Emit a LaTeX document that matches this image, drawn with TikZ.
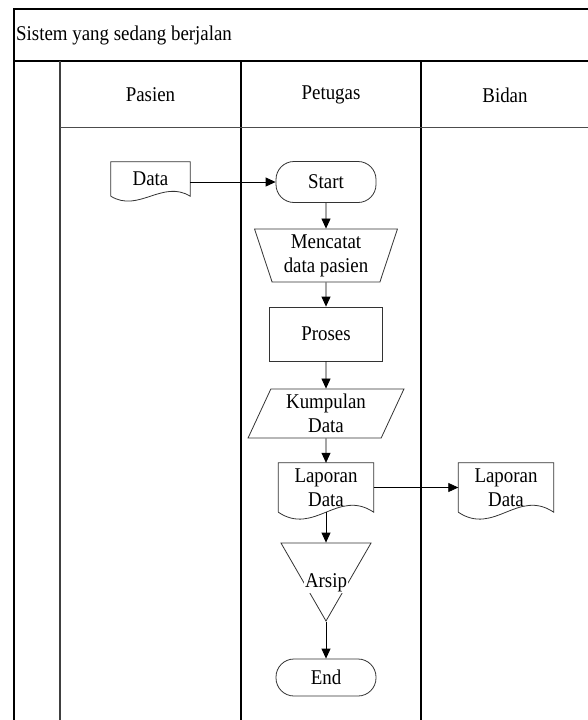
\documentclass[tikz,border=0pt]{standalone}
\usepackage{fontspec}
\setmainfont{Liberation Serif}[FakeStretch=0.9]
\usetikzlibrary{arrows.meta,positioning,shapes.geometric,calc}

\tikzset{
  box/.style={draw=black!80, line width=0.8pt, align=center, inner sep=0pt},
  term/.style={box, rounded corners=18pt, minimum width=100pt, minimum height=41pt},
  manual/.style={box, trapezium, trapezium angle=72, shape border rotate=180,
    trapezium stretches=true, minimum width=143pt, minimum height=53pt},
  proc/.style={box, rectangle, minimum width=113pt, minimum height=54pt},
  io/.style={box, trapezium, trapezium left angle=67, trapezium right angle=113,
    trapezium stretches=true, minimum width=156pt, minimum height=49pt},
  doc/.style={align=center, inner sep=0pt, minimum width=95pt, minimum height=49pt},
  store/.style={box, regular polygon, regular polygon sides=3,
    shape border rotate=180, minimum size=104pt},
  flow/.style={->, line width=0.8pt},
  >={Triangle[length=10pt,width=9pt]}
}
% document shape with wavy bottom
\newcommand{\docshape}[2]{%
  \draw[black!80, line width=0.8pt] (#1.south west) -- (#1.north west)
    -- (#1.north east) -- (#1.south east)
    .. controls ($(#1.south)+(12pt,#2)$) and ($(#1.south)+(-12pt,-#2)$) .. (#1.south west);}

\begin{document}
\begin{tikzpicture}[x=1pt, y=-1pt, node distance=78pt, on grid,
    font=\fontsize{21}{24}\selectfont]
  \useasboundingbox (0,0) rectangle (587,720);

  % swimlanes
  \draw[line width=1.3pt] (14,9) rectangle (590,725);
  \draw[line width=2.5pt] (14,61) -- (590,61);
  \draw[line width=1.5pt, black!75] (60,61) -- (60,725);
  \draw[line width=1.3pt] (241,61) -- (241,725);
  \draw[line width=1.3pt] (421,61) -- (421,725);
  \draw[line width=1pt, black!70] (60,127) -- (590,127);

  \node[anchor=west, inner sep=2pt] (judul) at (14,35) {Sistem yang sedang berjalan};
  \node (pasien) at (150.5,95) {Pasien};
  \node (petugas) at (331,95) {Petugas};
  \node (bidan) at (505,95) {Bidan};

  % flow
  \node[term] (start) at (326,182) {Start};
  \node[manual, below=73.5pt of start] (catat) {Mencatat\\data pasien};
  \node[proc, below=78.5pt of catat] (proses) {Proses};
  \node[io, below=79.5pt of proses] (kumpul) {Kumpulan\\Data};
  \node[doc, below=74pt of kumpul] (lap) {Laporan\\Data};
  \node[store, below=81.5pt of lap,
    label={[fill=white, inner sep=1pt, yshift=-14pt]center:Arsip}] (arsip) {};
  \node[term, minimum height=37pt, below=108.5pt of arsip] (end) {End};
  \node[doc, right=180pt of lap] (lap2) {Laporan\\Data};
  \node[doc, minimum width=79pt, minimum height=34pt] (data) at (150.5,179) {Data};

  \docshape{data}{17pt}
  \docshape{lap}{24pt}
  \docshape{lap2}{24pt}

  \draw[flow] (data.east |- start) -- (start);
  \draw[flow] (start) -- (catat);
  \draw[flow] (catat) -- (proses);
  \draw[flow] (proses) -- (kumpul);
  \draw[flow] (kumpul) -- (lap);
  \draw[flow] (lap.south) -- (arsip);
  \draw[flow] (arsip.corner 1) -- (end);
  \draw[flow] (lap) -- (lap2);
\end{tikzpicture}
\end{document}
